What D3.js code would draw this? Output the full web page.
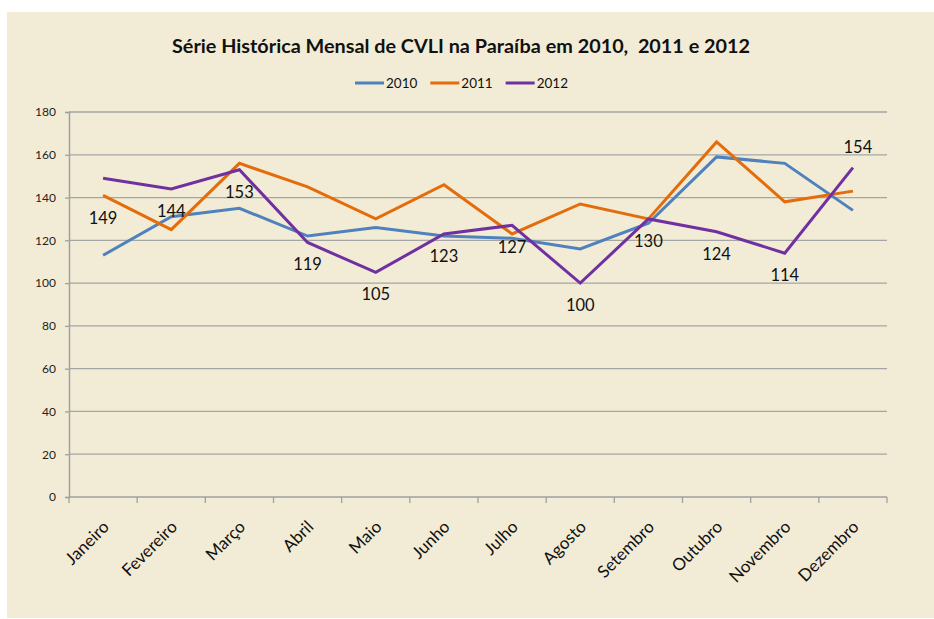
<!DOCTYPE html>
<html>
<head>
<meta charset="utf-8">
<script src="https://cdn.jsdelivr.net/npm/d3@7"></script>
<style>
  html, body { margin: 0; padding: 0; background: #ffffff; }
  svg { display: block; }
</style>
</head>
<body>
<svg id="chart" width="934" height="619"></svg>
<script>
// ---- data ----
const months = ["Janeiro", "Fevereiro", "Março", "Abril", "Maio", "Junho", "Julho", "Agosto", "Setembro", "Outubro", "Novembro", "Dezembro"];
const seriesNames = ["2010", "2011", "2012"];
const values2010 = [113, 131, 135, 122, 126, 122, 121, 116, 128, 159, 156, 134];
const values2011 = [141, 125, 156, 145, 130, 146, 123, 137, 130, 166, 138, 143];
const values2012 = [149, 144, 153, 119, 105, 123, 127, 100, 130, 124, 114, 154];
const yTicks = [0, 20, 40, 60, 80, 100, 120, 140, 160, 180];
const titleText = "Série Histórica Mensal de CVLI na Paraíba em 2010,  2011 e 2012";
// placement of the 2012 data labels relative to their points
const labelPlacement2012 = ["belowFar", "below", "below", "below", "below", "below", "below", "below", "below", "below", "below", "above"];

// ---- style / layout ----
const colors = { "2010": "#4F81BD", "2011": "#E46C0A", "2012": "#7030A0" };
const W = 934, H = 619;
const plot = { left: 69, right: 887, top: 112, bottom: 497 };
const FONT = "Lato, 'Open Sans', sans-serif";

const svg = d3.select("#chart");

// panel background
svg.append("rect").attr("x", 7).attr("y", 12).attr("width", W - 7).attr("height", 606)
  .attr("fill", "#F2ECD6");

// title
svg.append("text")
  .attr("x", 461).attr("y", 53)
  .attr("text-anchor", "middle")
  .style("white-space", "pre")
  .attr("font-family", FONT).attr("font-weight", "bold").attr("font-size", 18)
  .attr("fill", "#111")
  .attr("textLength", 578).attr("lengthAdjust", "spacingAndGlyphs")
  .text(titleText);

// scales
const x = d3.scaleBand().domain(months).range([plot.left, plot.right]).paddingInner(0).paddingOuter(0);
const y = d3.scaleLinear().domain([0, 180]).range([plot.bottom, plot.top]);

// gridlines
svg.append("g")
  .selectAll("line").data(yTicks.filter(d => d > 0)).join("line")
  .attr("x1", plot.left).attr("x2", plot.right)
  .attr("y1", d => y(d)).attr("y2", d => y(d))
  .attr("stroke", "#A5A5A5").attr("stroke-width", 1.3);

// y axis
const yAxis = svg.append("g")
  .attr("transform", `translate(${plot.left},0)`)
  .call(d3.axisLeft(y).tickValues(yTicks).tickSize(4).tickPadding(9));
yAxis.select(".domain").attr("stroke", "#A0A0A0").attr("stroke-width", 1.5);
yAxis.selectAll(".tick line").attr("stroke", "#A0A0A0").attr("stroke-width", 1.3);
yAxis.selectAll(".tick text")
  .attr("font-family", FONT).attr("font-size", 12).attr("fill", "#222");

// x axis (ticks at band boundaries)
const xAxisG = svg.append("g").attr("transform", `translate(0,${plot.bottom})`);
xAxisG.append("line")
  .attr("x1", plot.left).attr("x2", plot.right).attr("y1", 0).attr("y2", 0)
  .attr("stroke", "#A0A0A0").attr("stroke-width", 1.5);
const boundaries = months.map(m => x(m)).concat([x(months[months.length - 1]) + x.bandwidth()]);
xAxisG.selectAll("line.tk").data(boundaries).join("line")
  .attr("class", "tk")
  .attr("x1", d => d).attr("x2", d => d).attr("y1", 0).attr("y2", 6)
  .attr("stroke", "#A0A0A0").attr("stroke-width", 1.3);
xAxisG.selectAll("text").data(months).join("text")
  .attr("transform", d => `translate(${x(d) + x.bandwidth() / 2 + 7},${31}) rotate(-45)`)
  .attr("text-anchor", "end")
  .attr("font-family", FONT).attr("font-size", 17).attr("fill", "#111")
  .text(d => d);

// lines
const seriesData = [
  { name: "2010", values: values2010 },
  { name: "2011", values: values2011 },
  { name: "2012", values: values2012 }
];
const line = d3.line()
  .x((d, i) => x(months[i]) + x.bandwidth() / 2)
  .y(d => y(d));
svg.append("g").selectAll("path").data(seriesData).join("path")
  .attr("d", d => line(d.values))
  .attr("fill", "none")
  .attr("stroke", d => colors[d.name])
  .attr("stroke-width", 3)
  .attr("stroke-linejoin", "miter");

// data labels for 2012
const dyFor = { below: 22, belowFar: 40, above: -20 };
const dxFor = { below: 0, belowFar: 0, above: 5 };
svg.append("g").selectAll("text").data(values2012).join("text")
  .attr("x", (d, i) => x(months[i]) + x.bandwidth() / 2 + dxFor[labelPlacement2012[i]])
  .attr("y", (d, i) => y(d) + dyFor[labelPlacement2012[i]])
  .attr("dy", "0.35em")
  .attr("text-anchor", "middle")
  .attr("font-family", FONT).attr("font-size", 16.5).attr("fill", "#111")
  .text(d => d);

// legend
const legend = svg.append("g").attr("transform", "translate(355,83)");
let lx = 0;
seriesNames.forEach(name => {
  const g = legend.append("g").attr("transform", `translate(${lx},0)`);
  g.append("line").attr("x1", 0).attr("x2", 29).attr("y1", 0).attr("y2", 0)
    .attr("stroke", colors[name]).attr("stroke-width", 3);
  const t = g.append("text").attr("x", 31).attr("dy", "0.35em")
    .attr("font-family", FONT).attr("font-size", 13.5).attr("fill", "#111")
    .text(name);
  lx += 31 + t.node().getComputedTextLength() + 13;
});
</script>
</body>
</html>
